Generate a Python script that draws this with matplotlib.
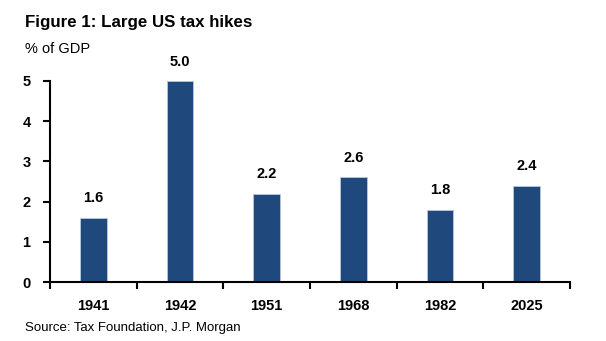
import matplotlib
matplotlib.use("Agg")
import matplotlib.pyplot as plt
import numpy as np

plt.rcParams['font.family'] = ['Liberation Sans', 'DejaVu Sans']

years = ["1941", "1942", "1951", "1968", "1982", "2025"]
hikes = [1.6, 5.0, 2.2, 2.6, 1.8, 2.4]
y_ticks = [0, 1, 2, 3, 4, 5]

bar_color = "#1F497D"

fig = plt.figure(figsize=(6.06, 3.41), dpi=100)
ax = fig.add_axes([50 / 606, 1 - 282 / 341, 520 / 606, 201 / 341])

x = np.arange(len(years))
bars = ax.bar(x, hikes, width=0.31, color=bar_color,
              edgecolor="#B8C8DC", linewidth=0.6, zorder=2)

for xi, v in zip(x, hikes):
    ax.annotate(f"{v:.1f}", (xi, v), xytext=(0, 9), textcoords="offset points",
                ha="center", va="bottom", fontsize=10.5, fontweight="bold",
                annotation_clip=False)

ax.set_xlim(-0.5, len(years) - 0.5)
ax.set_ylim(0, 5)
ax.set_yticks(y_ticks)
ax.set_yticklabels([str(t) for t in y_ticks], fontsize=10.5, fontweight="bold")

# category labels centred under bars, tick marks between categories
ax.set_xticks(np.arange(len(years) + 1) - 0.5)
ax.set_xticklabels([])
ax.set_xticks(x, minor=True)
ax.set_xticklabels(years, minor=True, fontsize=10.5, fontweight="bold")
ax.tick_params(axis="x", which="minor", length=0, pad=12)
ax.tick_params(axis="x", which="major", direction="out", length=5, width=1.5)
ax.tick_params(axis="y", direction="out", length=5, width=1.5, pad=9)

for side in ("top", "right"):
    ax.spines[side].set_visible(False)
for side in ("left", "bottom"):
    ax.spines[side].set_linewidth(1.5)

fig.text(25 / 606, 1 - 27 / 341, "Figure 1: Large US tax hikes",
         fontsize=12.2, fontweight="bold", ha="left", va="baseline")
fig.text(25 / 606, 1 - 53 / 341, "% of GDP", fontsize=10.5,
         ha="left", va="baseline")
fig.text(25 / 606, 1 - 331 / 341, "Source: Tax Foundation, J.P. Morgan",
         fontsize=9.5, ha="left", va="baseline")

fig.savefig("out.png", dpi=100)
